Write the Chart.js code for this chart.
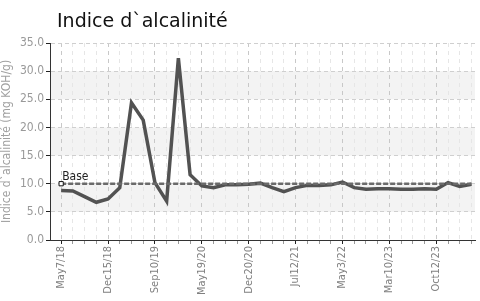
<!DOCTYPE html>
<html>
<head>
<meta charset="utf-8">
<script src="https://cdn.jsdelivr.net/npm/chart.js@4"></script>
<style>
  html, body { margin: 0; padding: 0; background: #fff; }
  #wrap { width: 480px; height: 301px; position: relative; }
</style>
</head>
<body>
<div id="wrap"><canvas id="chart"></canvas></div>
<script>
// values, one every point (36 samples)
const values = [
  8.8, 8.7, 7.7, 6.7, 7.3, 9.3, 24.4, 21.3, 10.2, 6.9, 32.3, 11.6,
  9.6, 9.3, 9.8, 9.8, 9.9, 10.1, 9.3, 8.6, 9.3, 9.7, 9.7, 9.8,
  10.3, 9.3, 9.0, 9.1, 9.1, 9.0, 9.0, 9.1, 9.0, 10.2, 9.5, 9.9
];
// a date label shows on every 4th sample
const tickLabels = ['May7/18', 'Dec15/18', 'Sep10/19', 'May19/20', 'Dec20/20',
  'Jul12/21', 'May3/22', 'Mar10/23', 'Oct12/23'];
const labelEvery = 4;
const baseValue = 10;
const baseLabel = 'Base';
const chartTitle = 'Indice d`alcalinité';
const yTitle = 'Indice d`alcalinité (mg KOH/g)';

const narrow = "'Liberation Sans Narrow', 'DejaVu Sans Condensed', 'Roboto', sans-serif";

const points = values.map((v, i) => ({ x: i, y: v }));
const basePoints = [{ x: 0, y: baseValue }, { x: values.length - 1, y: baseValue }];

// light grey bands behind the plot
const bandPlugin = {
  id: 'bands',
  beforeDraw(chart) {
    const { ctx, chartArea: a, scales: { y } } = chart;
    ctx.save();
    ctx.fillStyle = '#f3f3f3';
    [[5, 10], [15, 20], [25, 30]].forEach(([lo, hi]) => {
      const top = y.getPixelForValue(hi);
      const bot = y.getPixelForValue(lo);
      ctx.fillRect(a.left, top, a.right - a.left, bot - top);
    });
    ctx.restore();
  }
};

// title and the "Base" tag
const textPlugin = {
  id: 'texts',
  afterDraw(chart) {
    const { ctx, chartArea: a, scales: { x, y } } = chart;
    ctx.save();
    ctx.fillStyle = '#111';
    ctx.font = "19px 'DejaVu Sans', sans-serif";
    ctx.textBaseline = 'alphabetic';
    ctx.textAlign = 'left';
    ctx.fillText(chartTitle, a.left + 7, 27);
    ctx.font = "12px " + narrow;
    ctx.fillStyle = '#222';
    ctx.fillText(baseLabel, x.getPixelForValue(0) + 1, y.getPixelForValue(baseValue) - 4);
    ctx.restore();
  }
};

new Chart(document.getElementById('chart'), {
  type: 'line',
  data: {
    datasets: [
      {
        data: points,
        borderColor: '#525252',
        borderWidth: 3.5,
        pointRadius: 0,
        tension: 0,
        order: 2
      },
      {
        data: basePoints,
        borderColor: '#6a6a6a',
        borderWidth: 2.5,
        borderDash: [5, 2],
        pointStyle: 'rect',
        pointRadius: [3, 0],
        pointBackgroundColor: '#fff',
        pointBorderColor: '#111',
        pointBorderWidth: 1,
        order: 1
      }
    ]
  },
  options: {
    responsive: true,
    maintainAspectRatio: false,
    animation: false,
    layout: { padding: { top: 43, right: 1, bottom: 0, left: 0 } },
    plugins: {
      legend: { display: false },
      tooltip: { enabled: false },
      title: { display: false }
    },
    scales: {
      x: {
        type: 'linear',
        min: -0.95,
        max: 35.3,
        afterBuildTicks(scale) {
          scale.ticks = values.map((v, i) => ({ value: i }));
        },
        afterFit(scale) {
          scale.height = 61;
          scale.paddingLeft = 0;
          scale.paddingRight = 0;
        },
        ticks: {
          autoSkip: false,
          maxRotation: 90,
          minRotation: 90,
          padding: 2,
          color: '#808080',
          font: { family: narrow, size: 11 },
          callback(v) {
            return v % labelEvery === 0 ? tickLabels[v / labelEvery] : '';
          }
        },
        grid: {
          color: (c) => (c.tick && c.tick.value % labelEvery === 0) ? '#c8c8c8' : '#e6e6e6',
          tickColor: (c) => (c.tick && c.tick.value % labelEvery === 0) ? '#222' : '#999',
          tickLength: 4,
          lineWidth: 1
        },
        border: { color: '#333', width: 1, dash: [4, 4] }
      },
      y: {
        min: 0,
        max: 35,
        afterFit(scale) { scale.width = 50; },
        ticks: {
          stepSize: 5,
          color: '#999',
          padding: 2,
          font: { family: narrow, size: 12 },
          callback: (v) => v.toFixed(1)
        },
        title: {
          display: true,
          text: yTitle,
          color: '#a0a0a0',
          padding: { top: 0, bottom: 0 },
          font: { family: narrow, size: 12 }
        },
        grid: {
          color: '#cfcfcf',
          tickColor: '#222',
          tickLength: 4
        },
        border: { color: '#333', width: 1, dash: [4, 3] }
      }
    }
  },
  plugins: [bandPlugin, textPlugin]
});
</script>
</body>
</html>
